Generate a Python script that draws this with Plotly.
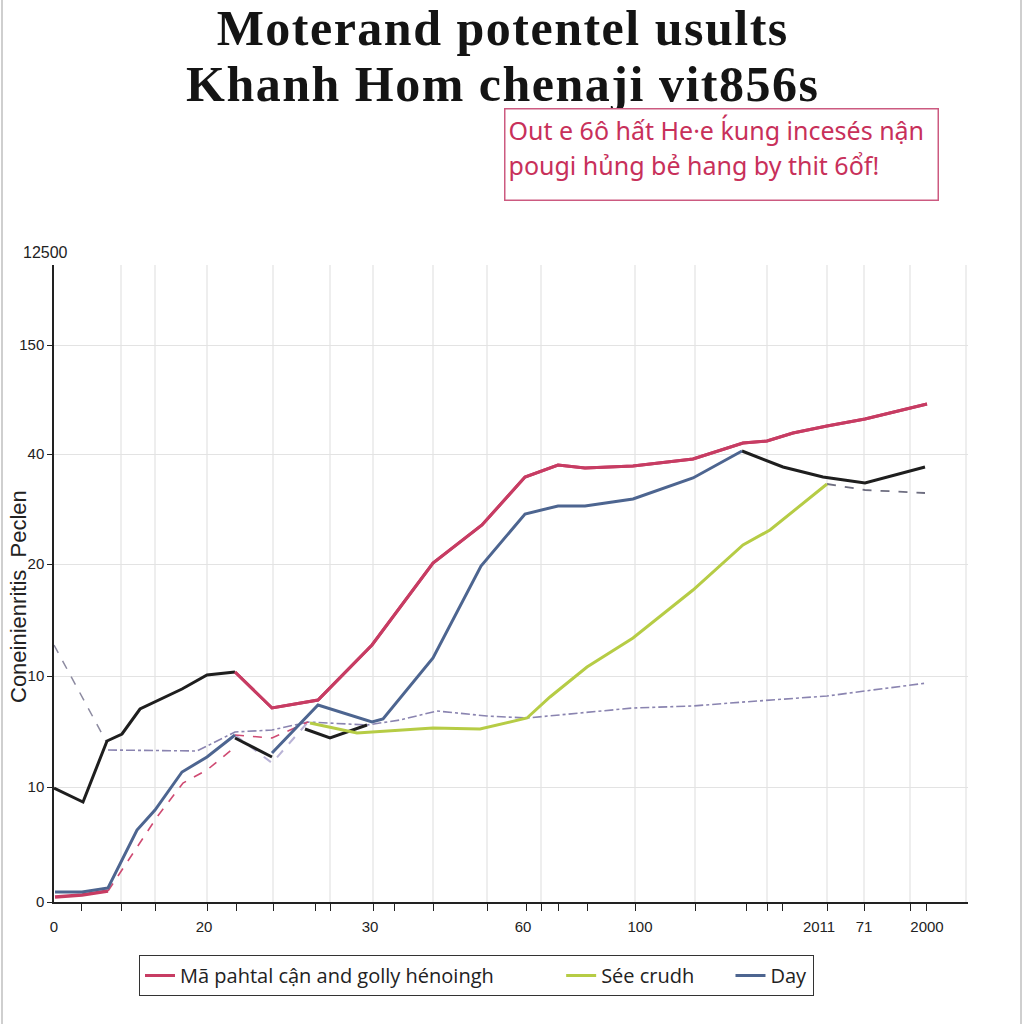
import plotly.graph_objects as go

# ---- Data (x = horizontal position on the chart scale, y = value on the chart scale) ----
black1_x = [54, 83, 107, 122, 140, 182, 207, 235]
black1_y = [114, 100, 161, 168, 193, 213, 227, 230]

red1_x = [235, 272, 318, 372, 433, 482, 525, 558, 585, 633, 693, 743, 767, 793, 827, 865, 927]
red1_y = [230, 194, 202, 257, 339, 377, 425, 437, 434, 436, 443, 459, 461, 469, 476, 483, 498]

red_low_x = [55, 82, 108]
red_low_y = [5, 7, 11]

blue1_x = [55, 82, 108, 137, 155, 182, 207, 235]
blue1_y = [10, 10, 14, 72, 92, 130, 145, 167]

black2_x = [235, 272]
black2_y = [164, 145]

blue2_x = [272, 318, 372, 383, 433, 481, 525, 558, 585, 633, 693, 742]
blue2_y = [149, 197, 180, 183, 244, 336, 388, 396, 396, 403, 424, 451]

black3_x = [305, 330, 367]
black3_y = [173, 164, 177]

black4_x = [742, 783, 823, 865, 925]
black4_y = [451, 435, 425, 419, 435]

grey_tail_x = [827, 865, 925]
grey_tail_y = [418, 412, 409]

green_x = [310, 357, 433, 480, 527, 550, 587, 633, 693, 730, 743, 770, 827]
green_y = [179, 169, 174, 173, 184, 205, 235, 264, 312, 345, 357, 372, 418]

grey_start_x = [54, 107]
grey_start_y = [257, 159]

lav_x = [108, 197, 235, 272, 308, 367, 400, 437, 487, 527, 633, 693, 730, 827, 865, 927]
lav_y = [152, 151, 170, 172, 180, 177, 182, 191, 186, 184, 194, 196, 199, 206, 211, 219]

pink1_x = [108, 137, 157, 183, 207, 235]
pink1_y = [11, 55, 85, 119, 132, 155]

pink2_x = [235, 272, 308]
pink2_y = [167, 164, 180]

shadow_x = [235, 272, 308]
shadow_y = [167, 139, 180]

# axis labels
y_tickvals = [0, 115, 226, 338, 448, 557]
y_ticktext = ["0", "10", "10", "20", "40", "150"]
x_label_pos = [54, 204, 370, 523, 640, 819, 864, 927]
x_label_text = ["0", "20", "30", "60", "100", "2011", "71", "2000"]
x_tick_marks = [81, 121, 155, 207, 236, 273, 315, 330, 373, 394, 433, 487, 526, 541,
                558, 587, 635, 695, 746, 767, 782, 827, 864, 910, 926]
x_grid = [121, 155, 207, 273, 330, 373, 433, 487, 541, 635, 695, 767, 827, 864, 910, 966]

legend_names = ["Mã pahtal cận and golly hénoingh", "Sée crudh", "Day"]
title_lines = ["Moterand potentel usults", "Khanh Hom chenaji vit856s"]
note_lines = ["Out e 6ô hất He·e ḱung incesés nận", "pougi hủng bẻ hang by thit 6ổf!"]

RED = "#c73c63"
BLUE = "#4d6590"
GREEN = "#b6cc45"
BLACK = "#1e1e1e"
GREY = "#8c8aa0"
LAV = "#8a84b0"
PINK = "#cf4a72"
SHADOW = "#b9b3d6"

fig = go.Figure()


def add(x, y, color, width=3, dash="solid", name=None, show=False):
    fig.add_trace(go.Scatter(x=x, y=y, mode="lines", line=dict(color=color, width=width, dash=dash),
                             name=name, showlegend=show, hoverinfo="skip"))


add(red1_x, red1_y, RED, 3, name=legend_names[0] + "\u00a0" * 12, show=True)
add(grey_start_x, grey_start_y, GREY, 1.5, "dash")
add(lav_x, lav_y, LAV, 1.6, "dashdot")
add(shadow_x, shadow_y, SHADOW, 2, "dash")
add(pink1_x, pink1_y, PINK, 1.6, "dash")
add(pink2_x, pink2_y, PINK, 1.6, "dash")
add(grey_tail_x, grey_tail_y, "#6e6e80", 1.8, "dash")
add(red_low_x, red_low_y, RED, 3.5)
add(black1_x, black1_y, BLACK, 3)
add(black2_x, black2_y, BLACK, 3)
add(black3_x, black3_y, BLACK, 3)
add(black4_x, black4_y, BLACK, 3)
add(green_x, green_y, GREEN, 3, name=legend_names[1] + "\u00a0" * 6, show=True)
add(blue1_x, blue1_y, BLUE, 3)
add(blue2_x, blue2_y, BLUE, 3, name=legend_names[2], show=True)
# keep the red rising line drawn on top
fig.add_trace(go.Scatter(x=red1_x, y=red1_y, mode="lines", line=dict(color=RED, width=3),
                         showlegend=False, hoverinfo="skip"))


def px_x(px):
    return (px - 54) / 914


def px_y(py):
    return (902 - py) / 637


shapes = []
for gx in x_grid:
    shapes.append(dict(type="line", xref="x", yref="paper", x0=gx, x1=gx, y0=0, y1=1,
                       layer="below", line=dict(color="#e3e3e3", width=1.2)))
# outer frame lines of the picture
for px in (2, 1021):
    shapes.append(dict(type="line", xref="paper", yref="paper", x0=px_x(px), x1=px_x(px),
                       y0=px_y(1024), y1=px_y(0), line=dict(color="#cfcfcf", width=2)))

title_html = "<br>".join(
    "<span style='font-size:50px;letter-spacing:1.5px'><b>%s</b></span>" % t for t in title_lines)
note_html = "<br>".join("<span style='font-size:25px'>%s</span>" % t for t in note_lines)

annotations = [
    dict(text=title_html, x=px_x(502), y=px_y(56), xref="paper", yref="paper",
         xanchor="center", yanchor="middle", showarrow=False,
         font=dict(family="Liberation Serif", size=43, color="#141414")),
    dict(text=note_html,
         x=px_x(504), y=px_y(108), xref="paper", yref="paper", xanchor="left", yanchor="top",
         showarrow=False, align="left", valign="top", width=426, height=84, borderpad=3,
         bgcolor="white", bordercolor="#cc5a80", borderwidth=1.5,
         font=dict(family="Noto Sans", size=27.5, color="#c8305a")),
    dict(text="12500", x=px_x(45), y=px_y(252), xref="paper", yref="paper", showarrow=False,
         xanchor="center", yanchor="middle",
         font=dict(family="Liberation Sans", size=16, color="#222")),
    dict(text="Coneinienritis  Peclen", x=px_x(18), y=px_y(597), xref="paper", yref="paper",
         showarrow=False, textangle=-90, xanchor="center", yanchor="middle",
         font=dict(family="Liberation Sans Narrow, Liberation Sans", size=22, color="#222")),
]

fig.update_layout(
    width=1024, height=1024, autosize=False,
    margin=dict(l=54, r=56, t=265, b=122),
    paper_bgcolor="white", plot_bgcolor="white",
    shapes=shapes, annotations=annotations,
    legend=dict(orientation="h", x=px_x(139), y=px_y(955), xanchor="left", yanchor="top",
                bordercolor="#333", borderwidth=1, bgcolor="white",
                font=dict(family="Open Sans", size=20, color="#222"), traceorder="normal"),
    xaxis=dict(range=[54, 968], showline=True, linecolor="#222", linewidth=1.5, zeroline=False,
               showgrid=False, tickmode="array", tickvals=x_label_pos, ticktext=x_label_text,
               ticks="", ticklabelstandoff=10,
               tickfont=dict(family="Liberation Sans", size=15, color="#222"),
               minor=dict(tickmode="array", tickvals=x_tick_marks, ticks="outside", ticklen=7,
                          tickcolor="#222", tickwidth=1.2, showgrid=False)),
    yaxis=dict(range=[0, 637], showline=True, linecolor="#222", linewidth=1.5, zeroline=False,
               showgrid=True, gridcolor="#e3e3e3", gridwidth=1.2, tickmode="array",
               tickvals=y_tickvals, ticktext=y_ticktext, ticks="outside", ticklen=5, tickcolor="#222",
               tickfont=dict(family="Liberation Sans", size=15, color="#222")),
)

fig.write_html("out.html", config={"displayModeBar": False},
               post_script="document.body.style.margin='0px';")
